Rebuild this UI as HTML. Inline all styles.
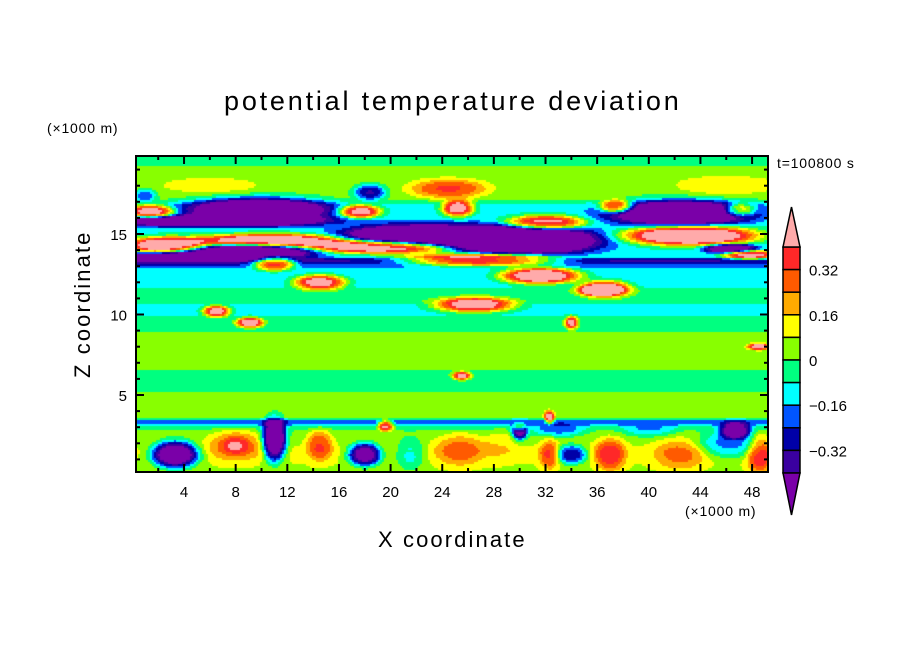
<!DOCTYPE html>
<html><head><meta charset="utf-8">
<style>
body{margin:0;background:#fff;width:904px;height:654px;overflow:hidden;position:relative;font-family:"Liberation Sans",sans-serif;}
.t{position:absolute;white-space:nowrap;color:#000;}
</style></head>
<body>
<div class="t" style="left:224px;top:86px;font-size:27px;letter-spacing:2.8px;">potential temperature deviation</div>
<div class="t" style="left:47px;top:120px;font-size:14px;letter-spacing:0.8px;">(×1000 m)</div>
<div class="t" style="left:777px;top:155px;font-size:14px;letter-spacing:0.8px;">t=100800 s</div>
<div class="t" style="left:685px;top:503px;font-size:14px;letter-spacing:0.8px;">(×1000 m)</div>
<div class="t" style="left:378px;top:527px;font-size:22px;letter-spacing:2.1px;">X coordinate</div>
<div class="t" style="left:20px;top:302px;font-size:22px;letter-spacing:2.1px;transform:rotate(-90deg);transform-origin:63px 13px;width:126px;">Z coordinate</div>
<canvas id="field" width="632" height="316" style="position:absolute;left:136px;top:156px;"></canvas>
<svg id="ov" width="904" height="654" style="position:absolute;left:0;top:0;"></svg>
<script>
const levels=[-0.4,-0.32,-0.24,-0.16,-0.08,0,0.08,0.16,0.24,0.32,0.4];
const colors=["#7a00a8","#3a00a0","#0000a8","#0055ff","#00ffff","#00ff80","#88ff00","#ffff00","#ffaa00","#ff5a00","#ff2828","#ffaaaa"];
const profZ=[0,1.5,2.7,3.0,3.2,3.4,3.6,5.0,5.4,6.4,6.8,8.7,9.0,9.8,10.0,10.6,10.8,11.5,11.8,12.8,13.1,13.4,13.6,16.8,17.2,18.5,19.5,20];
const profV=[0.06,0.1,0.02,-0.05,-0.2,-0.2,0.04,0.04,-0.03,-0.03,0.04,0.04,-0.03,-0.05,-0.1,-0.1,-0.03,-0.04,-0.12,-0.12,-0.25,-0.35,-0.1,-0.1,0.02,0.04,-0.02,-0.02];
// blobs: x(km), z(km), rx, rz, amplitude
const blobX=[9.8,6,2.5,10.7,19.2,27,31.6,36.6,9.1,3,1.4,17.6,18.4,1,30,22.3,42.4,43.2,25.2,32,37.5,47,46.3,47.8,11,14.5,26.5,9.1,6.5,34,25.5,36.2,48.5,24.5,6,46,
3.3,11,18,34,46.3,46.7,30,19.6,32.3,30,8,8,14.5,25.4,37,32.3,42.4,48.6,21.5,40,33,28.5];
const blobZ=[16.5,15.8,14.3,14.6,14.2,13.4,12.4,11.6,13.9,13.6,16.4,16.4,17.6,17.4,14.6,14.9,16.3,14.9,16.6,15.7,16.7,16.5,14.1,13.7,13.2,12.0,10.6,9.5,10.2,9.5,6.2,11.5,8,17.8,18,18,
1.3,2.2,1.3,1.3,1.9,2.8,2.8,3.1,3.6,3.1,1.9,1.9,1.9,1.6,1.3,1.3,1.3,1.3,1.3,2.8,2.8,1.9];
const blobRX=[5.4,9,3,6,6,6,3,2,5,4,1.8,1.6,1.2,0.8,6,6,5.5,5,1.2,3,1.3,1.2,2,2,1.6,2,3,1,1,0.5,0.7,1.5,0.8,3,4,4,
1.8,0.9,1.3,1.2,2.5,1.2,0.6,0.6,0.4,0.5,2.2,1,1,2,1.2,0.8,2,1,1.2,2,2,1.3];
const blobRZ=[0.75,0.35,0.5,0.4,0.4,0.4,0.5,0.5,0.5,0.35,0.4,0.4,0.5,0.4,0.9,0.7,0.8,0.6,0.5,0.45,0.4,0.4,0.3,0.3,0.45,0.45,0.45,0.3,0.35,0.4,0.25,0.3,0.2,0.6,0.5,0.6,
0.8,1.3,0.7,0.6,0.8,0.5,0.6,0.35,0.4,0.3,1,0.5,1,1,1,0.9,1,1.2,1,0.4,0.4,1];
const blobA=[-0.7,-0.6,0.7,0.7,0.7,0.7,0.7,0.6,-0.7,-0.5,0.6,0.6,-0.35,-0.25,-0.8,-0.7,-0.7,0.8,0.6,0.6,0.6,0.5,-0.6,0.6,0.6,0.6,0.6,0.6,0.6,0.5,0.5,0.5,0.5,0.3,0.1,0.12,
-0.7,-0.7,-0.6,-0.4,-0.25,-0.5,-0.5,0.5,0.5,0.5,0.2,0.15,0.25,0.2,0.3,0.25,0.18,0.3,-0.18,-0.15,-0.2,0.08];
const xTicks=[4,8,12,16,20,24,28,32,36,40,44,48];
const yTicks=[5,10,15];
const cbLabels=["0.32","0.16","0","-0.16","-0.32"];
const cbLabelLevels=[0.32,0.16,0,-0.16,-0.32];

const X0=132.4,XS=12.91,Z0=475.5,ZS=16.1;
const PL=136,PT=156,PW=632,PH=316;
const sx=x=>X0+x*XS, sz=z=>Z0-z*ZS;
function prof(z){for(let i=1;i<profZ.length;i++){if(z<=profZ[i]){const t=(z-profZ[i-1])/(profZ[i]-profZ[i-1]);return profV[i-1]+t*(profV[i]-profV[i-1]);}}return profV[profV.length-1];}
function field(x,z){let v=prof(z);for(let i=0;i<blobX.length;i++){const dx=(x-blobX[i])/blobRX[i],dz=(z-blobZ[i])/blobRZ[i];const d=dx*dx+dz*dz;if(d<9)v+=blobA[i]*Math.exp(-Math.pow(d,1.5));}return v;}
function colIdx(v){let k=0;while(k<levels.length&&v>=levels[k])k++;return k;}
const rgb=colors.map(c=>[parseInt(c.substr(1,2),16),parseInt(c.substr(3,2),16),parseInt(c.substr(5,2),16)]);
const cv=document.getElementById('field'),ctx=cv.getContext('2d');
const img=ctx.createImageData(PW,PH);
for(let py=0;py<PH;py+=2){const z=(Z0-(PT+py+1))/ZS;for(let px=0;px<PW;px+=2){const x=(PL+px+1-X0)/XS;const c=rgb[colIdx(field(x,z))];for(let a=0;a<2;a++)for(let b=0;b<2;b++){if(py+a>=PH||px+b>=PW)continue;const o=((py+a)*PW+px+b)*4;img.data[o]=c[0];img.data[o+1]=c[1];img.data[o+2]=c[2];img.data[o+3]=255;}}}
ctx.putImageData(img,0,0);

const NS="http://www.w3.org/2000/svg",ov=document.getElementById('ov');
function mk(tag,attrs){const e=document.createElementNS(NS,tag);for(const k in attrs)e.setAttribute(k,attrs[k]);ov.appendChild(e);return e;}
const frame=mk('rect',{x:PL,y:PT,width:PW,height:PH,fill:'none',stroke:'#000','stroke-width':2});


for(let v=2;v<=48;v+=2){const X=sx(v),maj=v%4===0,L=maj?8:4;
const t1=mk('line',{x1:X,x2:X,y1:PT+PH,y2:PT+PH-L,stroke:'#000','stroke-width':2});


const t2=mk('line',{x1:X,x2:X,y1:PT,y2:PT+L,stroke:'#000','stroke-width':2});

}
for(let v=1;v<=19;v++){const Y=sz(v),maj=v%5===0,L=maj?8:4;
const t1=mk('line',{x1:PL,x2:PL+L,y1:Y,y2:Y,stroke:'#000','stroke-width':2});


const t2=mk('line',{x1:PL+PW,x2:PL+PW-L,y1:Y,y2:Y,stroke:'#000','stroke-width':2});

}
xTicks.forEach(v=>{const t=mk('text',{x:sx(v),y:497,'text-anchor':'middle','font-size':15,'font-family':'Liberation Sans, sans-serif'});t.textContent=v;

});
yTicks.forEach(v=>{const t=mk('text',{x:127,y:sz(v)+6,'text-anchor':'end','font-size':15,'font-family':'Liberation Sans, sans-serif'});t.textContent=v;

});
const CBX=783,CBW=17,CBT=247,CBB=473,nb=colors.length-2,bh=(CBB-CBT)/nb;
for(let i=0;i<nb;i++){const r=mk('rect',{x:CBX,y:CBT+i*bh,width:CBW,height:bh,fill:colors[colors.length-2-i],stroke:'#000','stroke-width':1.5});

}
const up=mk('polygon',{points:`${CBX},${CBT} ${CBX+CBW},${CBT} ${CBX+CBW/2},207`,fill:colors[colors.length-1],stroke:'#000','stroke-width':1.5});


const dn=mk('polygon',{points:`${CBX},${CBB} ${CBX+CBW},${CBB} ${CBX+CBW/2},515`,fill:colors[0],stroke:'#000','stroke-width':1.5});


cbLabels.forEach((s,i)=>{const k=levels.indexOf(cbLabelLevels[i]);const Y=CBT+(levels.length-1-k)*bh;const t=mk('text',{x:809,y:Y+6,'font-size':15,'font-family':'Liberation Sans, sans-serif'});t.textContent=s.replace('-','\u2212');

});
</script>
</body></html>
